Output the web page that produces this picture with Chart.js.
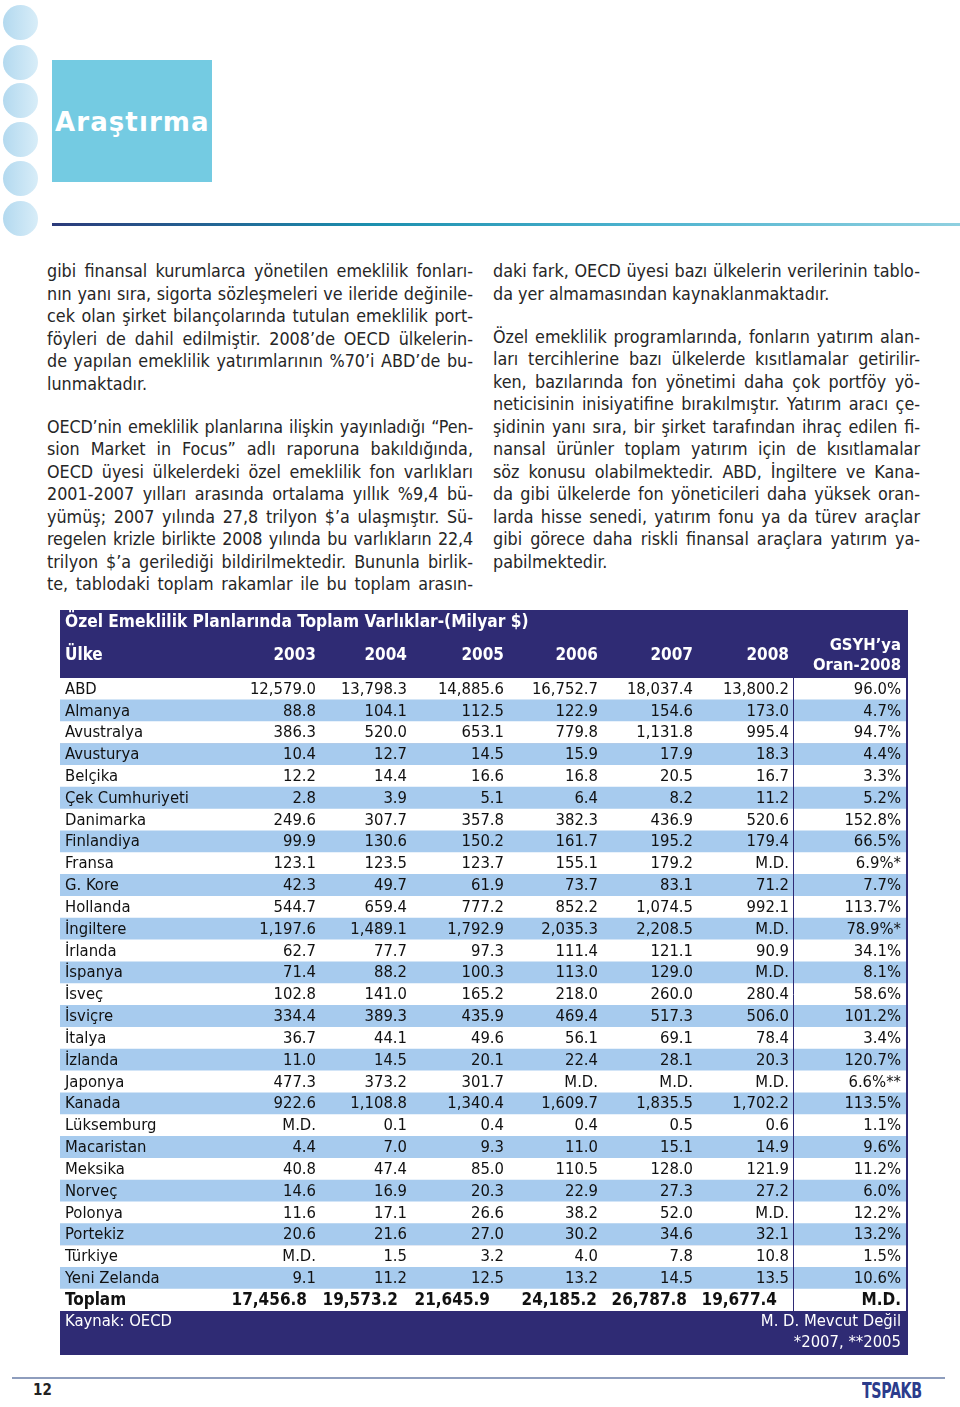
<!DOCTYPE html>
<html lang="tr">
<head>
<meta charset="utf-8">
<title>Araştırma</title>
<script src="https://cdn.jsdelivr.net/npm/chart.js@4.4.1/dist/chart.umd.min.js"></script>
<style>
  html, body { margin: 0; padding: 0; background: #fff; }
  body { width: 960px; height: 1407px; position: relative; overflow: hidden;
         font-family: "DejaVu Sans Condensed", "DejaVu Sans", sans-serif; font-stretch: condensed; }
  .dot { position: absolute; left: 3px; width: 35px; height: 35px; border-radius: 50%;
         background: linear-gradient(90deg, #b3d9ef, #d8edf8); }
  .box { position: absolute; left: 52px; top: 60px; width: 160px; height: 122px; background: #74cbe2; }
  .box span { position: absolute; left: 3px; top: 47px; color: #fff; font: bold 26px "DejaVu Sans", sans-serif;
              font-stretch: normal; letter-spacing: 1.1px; }
  .rule { position: absolute; left: 52px; top: 223px; width: 908px; height: 3px;
          background: linear-gradient(90deg, #2b3a7a 0%, #1b8fae 35%, #4db3cf 65%, #8fd0e0 100%); }
  .col { position: absolute; top: 260px; color: #262626; font-size: 17.8px; line-height: 22.5px; }
  .col p { margin: 0 0 20.5px 0; }
  .col span { display: block; white-space: nowrap; }
  .col .j { text-align: justify; text-align-last: justify; }
  .col .t { letter-spacing: -0.15px; }
  #tableWrap { position: absolute; left: 60px; top: 610px; width: 848px; height: 745px; }
  .foot { position: absolute; left: 12px; top: 1377px; width: 933px; height: 2px; background: #8e9dbd; }
  .pg { position: absolute; left: 33px; top: 1381px; font-weight: bold; font-size: 15px; color: #222; }
  .logo { position: absolute; left: 862px; top: 1378px; font: bold 22px "DejaVu Sans Condensed", "DejaVu Sans";
          color: #2c3c8c; transform: scaleX(0.72); transform-origin: left top; letter-spacing: -0.5px; }
</style>
</head>
<body>
<div class="dot" style="top:5px"></div>
<div class="dot" style="top:45px"></div>
<div class="dot" style="top:83px"></div>
<div class="dot" style="top:122px"></div>
<div class="dot" style="top:161px"></div>
<div class="dot" style="top:201px"></div>
<div class="box"><span>Araştırma</span></div>
<div class="rule"></div>

<div class="col" style="left:47px;width:426px">
  <p>
    <span class="j">gibi finansal kurumlarca yönetilen emeklilik fonları-</span>
    <span class="j">nın yanı sıra, sigorta sözleşmeleri ve ileride değinile-</span>
    <span class="j">cek olan şirket bilançolarında tutulan emeklilik port-</span>
    <span class="j">föyleri de dahil edilmiştir. 2008’de OECD ülkelerin-</span>
    <span class="j">de yapılan emeklilik yatırımlarının %70’i ABD’de bu-</span>
    <span>lunmaktadır.</span>
  </p>
  <p>
    <span class="j t">OECD’nin emeklilik planlarına ilişkin yayınladığı “Pen-</span>
    <span class="j">sion Market in Focus” adlı raporuna bakıldığında,</span>
    <span class="j">OECD üyesi ülkelerdeki özel emeklilik fon varlıkları</span>
    <span class="j">2001-2007 yılları arasında ortalama yıllık %9,4 bü-</span>
    <span class="j">yümüş; 2007 yılında 27,8 trilyon $’a ulaşmıştır. Sü-</span>
    <span class="j t">regelen krizle birlikte 2008 yılında bu varlıkların 22,4</span>
    <span class="j">trilyon $’a gerilediği bildirilmektedir. Bununla birlik-</span>
    <span class="j">te, tablodaki toplam rakamlar ile bu toplam arasın-</span>
  </p>
</div>

<div class="col" style="left:493px;width:427px">
  <p>
    <span class="j">daki fark, OECD üyesi bazı ülkelerin verilerinin tablo-</span>
    <span>da yer almamasından kaynaklanmaktadır.</span>
  </p>
  <p>
    <span class="j">Özel emeklilik programlarında, fonların yatırım alan-</span>
    <span class="j">ları tercihlerine bazı ülkelerde kısıtlamalar getirilir-</span>
    <span class="j">ken, bazılarında fon yönetimi daha çok portföy yö-</span>
    <span class="j">neticisinin inisiyatifine bırakılmıştır. Yatırım aracı çe-</span>
    <span class="j">şidinin yanı sıra, bir şirket tarafından ihraç edilen fi-</span>
    <span class="j">nansal ürünler toplam yatırım için de kısıtlamalar</span>
    <span class="j">söz konusu olabilmektedir. ABD, İngiltere ve Kana-</span>
    <span class="j">da gibi ülkelerde fon yöneticileri daha yüksek oran-</span>
    <span class="j">larda hisse senedi, yatırım fonu ya da türev araçlar</span>
    <span class="j">gibi görece daha riskli finansal araçlara yatırım ya-</span>
    <span>pabilmektedir.</span>
  </p>
</div>

<div id="tableWrap"><canvas id="table" width="848" height="745"></canvas></div>

<div class="foot"></div>
<div class="pg">12</div>
<div class="logo">TSPAKB</div>

<script>
// Table data (billion $), null = M.D. (Mevcut Değil)
const countries = ['ABD', 'Almanya', 'Avustralya', 'Avusturya', 'Belçika', 'Çek Cumhuriyeti', 'Danimarka',
  'Finlandiya', 'Fransa', 'G. Kore', 'Hollanda', 'İngiltere', 'İrlanda', 'İspanya', 'İsveç', 'İsviçre',
  'İtalya', 'İzlanda', 'Japonya', 'Kanada', 'Lüksemburg', 'Macaristan', 'Meksika', 'Norveç', 'Polonya',
  'Portekiz', 'Türkiye', 'Yeni Zelanda', 'Toplam'];
const years = ['2003', '2004', '2005', '2006', '2007', '2008'];

const v2003 = [12579.0, 88.8, 386.3, 10.4, 12.2, 2.8, 249.6, 99.9, 123.1, 42.3, 544.7, 1197.6, 62.7, 71.4,
  102.8, 334.4, 36.7, 11.0, 477.3, 922.6, null, 4.4, 40.8, 14.6, 11.6, 20.6, null, 9.1, 17456.8];
const v2004 = [13798.3, 104.1, 520.0, 12.7, 14.4, 3.9, 307.7, 130.6, 123.5, 49.7, 659.4, 1489.1, 77.7, 88.2,
  141.0, 389.3, 44.1, 14.5, 373.2, 1108.8, 0.1, 7.0, 47.4, 16.9, 17.1, 21.6, 1.5, 11.2, 19573.2];
const v2005 = [14885.6, 112.5, 653.1, 14.5, 16.6, 5.1, 357.8, 150.2, 123.7, 61.9, 777.2, 1792.9, 97.3, 100.3,
  165.2, 435.9, 49.6, 20.1, 301.7, 1340.4, 0.4, 9.3, 85.0, 20.3, 26.6, 27.0, 3.2, 12.5, 21645.9];
const v2006 = [16752.7, 122.9, 779.8, 15.9, 16.8, 6.4, 382.3, 161.7, 155.1, 73.7, 852.2, 2035.3, 111.4, 113.0,
  218.0, 469.4, 56.1, 22.4, null, 1609.7, 0.4, 11.0, 110.5, 22.9, 38.2, 30.2, 4.0, 13.2, 24185.2];
const v2007 = [18037.4, 154.6, 1131.8, 17.9, 20.5, 8.2, 436.9, 195.2, 179.2, 83.1, 1074.5, 2208.5, 121.1, 129.0,
  260.0, 517.3, 69.1, 28.1, null, 1835.5, 0.5, 15.1, 128.0, 27.3, 52.0, 34.6, 7.8, 14.5, 26787.8];
const v2008 = [13800.2, 173.0, 995.4, 18.3, 16.7, 11.2, 520.6, 179.4, null, 71.2, 992.1, null, 90.9, null,
  280.4, 506.0, 78.4, 20.3, null, 1702.2, 0.6, 14.9, 121.9, 27.2, null, 32.1, 10.8, 13.5, 19677.4];
// GSYH'ya oran (%), with footnote marks (* 2007, ** 2005)
const gdpRatio = [96.0, 4.7, 94.7, 4.4, 3.3, 5.2, 152.8, 66.5, 6.9, 7.7, 113.7, 78.9, 34.1, 8.1,
  58.6, 101.2, 3.4, 120.7, 6.6, 113.5, 1.1, 9.6, 11.2, 6.0, 12.2, 13.2, 1.5, 10.6, null];
const gdpNote = ['', '', '', '', '', '', '', '', '*', '', '', '*', '', '', '', '', '', '', '**', '', '', '', '',
  '', '', '', '', '', ''];

const series = [v2003, v2004, v2005, v2006, v2007, v2008];

const NAVY = '#2f2b74';
const ROW_BLUE = '#a7cbee';
const TABLE_W = 846;
const COND = '"DejaVu Sans Condensed", "DejaVu Sans", sans-serif';
const cellFont = '16.5px ' + COND;
const boldFont = 'bold 17px ' + COND;

// right edges of the columns in table units (last one is the GSYH column)
const colRight = [256, 347, 444, 538, 633, 729, 841];
const totalRight = [247, 338, 430, 537, 627, 717, 841];
const dividerX = 733;

function fmt(v) {
  if (v === null) return 'M.D.';
  return v.toLocaleString('en-US', { minimumFractionDigits: 1, maximumFractionDigits: 1 });
}

const tablePlugin = {
  id: 'tableText',
  beforeDraw(chart) {
    const { ctx, width, height } = chart;
    ctx.save();
    ctx.fillStyle = NAVY;
    ctx.fillRect(0, 0, width, height);
    ctx.restore();
  },
  afterDatasetsDraw(chart) {
    const { ctx, chartArea, scales: { x, y } } = chart;
    ctx.save();
    ctx.textBaseline = 'middle';

    // divider before the GSYH column
    ctx.strokeStyle = NAVY;
    ctx.lineWidth = 1;
    ctx.beginPath();
    ctx.moveTo(Math.round(x.getPixelForValue(dividerX)) + 0.5, chartArea.top);
    ctx.lineTo(Math.round(x.getPixelForValue(dividerX)) + 0.5, chartArea.bottom);
    ctx.stroke();

    // body rows
    countries.forEach((name, i) => {
      const py = y.getPixelForValue(i) + 0.5;
      const isTotal = i === countries.length - 1;
      ctx.font = isTotal ? boldFont : cellFont;
      ctx.fillStyle = '#111';
      ctx.textAlign = 'left';
      ctx.fillText(name, x.getPixelForValue(5), py);
      ctx.textAlign = 'right';
      const rights = isTotal ? totalRight : colRight;
      series.forEach((s, c) => {
        ctx.fillText(fmt(s[i]), x.getPixelForValue(rights[c]), py);
      });
      const g = gdpRatio[i] === null ? 'M.D.' : gdpRatio[i].toFixed(1) + '%' + gdpNote[i];
      ctx.fillText(g, x.getPixelForValue(rights[6]), py);
    });

    // title and header
    ctx.fillStyle = '#fff';
    ctx.textAlign = 'left';
    ctx.font = 'bold 17.2px ' + COND;
    ctx.fillText('Özel Emeklilik Planlarında Toplam Varlıklar-(Milyar $)', x.getPixelForValue(5), 13);
    ctx.font = boldFont;
    ctx.fillText('Ülke', x.getPixelForValue(5), 46);
    ctx.textAlign = 'right';
    years.forEach((yr, c) => ctx.fillText(yr, x.getPixelForValue(colRight[c]), 46));
    ctx.font = 'bold 16.5px ' + COND;
    ctx.fillText('GSYH’ya', x.getPixelForValue(colRight[6]), 36);
    ctx.fillText('Oran-2008', x.getPixelForValue(colRight[6]), 56);

    // footer notes
    ctx.font = cellFont;
    ctx.textAlign = 'left';
    ctx.fillText('Kaynak: OECD', x.getPixelForValue(5), 712);
    ctx.textAlign = 'right';
    ctx.fillText('M. D. Mevcut Değil', x.getPixelForValue(colRight[6]), 712);
    ctx.fillText('*2007, **2005', x.getPixelForValue(colRight[6]), 733);
    ctx.restore();
  }
};

new Chart(document.getElementById('table'), {
  type: 'bar',
  data: {
    labels: countries,
    datasets: [{
      data: countries.map(() => [0, TABLE_W]),
      backgroundColor: countries.map((_, i) => (i % 2 ? ROW_BLUE : '#ffffff')),
      borderWidth: 0,
      barPercentage: 1,
      categoryPercentage: 1
    }]
  },
  options: {
    indexAxis: 'y',
    responsive: false,
    animation: false,
    layout: { padding: { top: 68, bottom: 44, left: 0, right: 2 } },
    scales: {
      x: { display: false, min: 0, max: TABLE_W },
      y: { display: false }
    },
    plugins: { legend: { display: false }, tooltip: { enabled: false } }
  },
  plugins: [tablePlugin]
});
</script>
</body>
</html>
